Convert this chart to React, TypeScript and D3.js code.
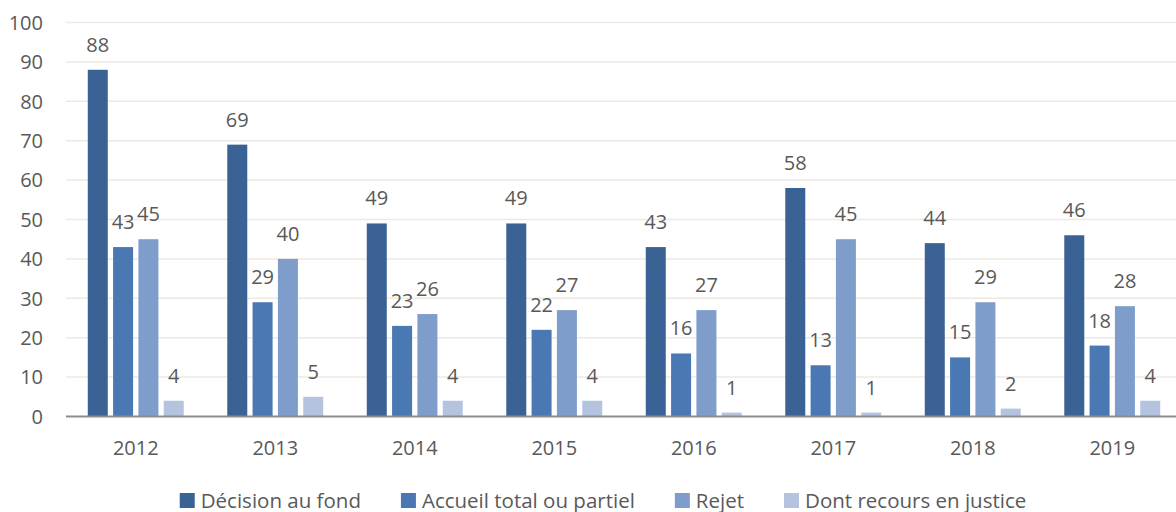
import React, { useEffect, useRef } from 'react';
import * as d3 from 'd3';

// Données du graphique
const years = ['2012', '2013', '2014', '2015', '2016', '2017', '2018', '2019'];
const seriesNames = ['Décision au fond', 'Accueil total ou partiel', 'Rejet', 'Dont recours en justice'];
const decisionAuFond = [88, 69, 49, 49, 43, 58, 44, 46];
const accueil = [43, 29, 23, 22, 16, 13, 15, 18];
const rejet = [45, 40, 26, 27, 27, 45, 29, 28];
const recours = [4, 5, 4, 4, 1, 1, 2, 4];
const yTicks = [0, 10, 20, 30, 40, 50, 60, 70, 80, 90, 100];
const colors = ['#3b6294', '#4a78b2', '#7f9dca', '#b4c4df'];

const FONT = "'Open Sans', sans-serif";
const TEXT_COLOR = '#595959';

const App: React.FC = () => {
    const chartRef = useRef<SVGSVGElement>(null);

    useEffect(() => {
        const width = 1176;
        const height = 512;
        const marginLeft = 66;
        const plotRight = 1182;
        const yBottom = 416.5;
        const yTop = 22.5;

        const values = [decisionAuFond, accueil, rejet, recours];

        const svg = d3.select(chartRef.current)
            .attr('width', width)
            .attr('height', height);
        svg.selectAll('*').remove();

        // Echelles
        const x0 = d3.scaleBand()
            .domain(years)
            .range([marginLeft, plotRight])
            .paddingInner(0.274)
            .paddingOuter(0.137);

        const x1 = d3.scaleBand()
            .domain(seriesNames)
            .range([0, x0.bandwidth()])
            .paddingInner(0.21)
            .paddingOuter(0.105);

        const y = d3.scaleLinear()
            .domain([0, 100])
            .range([yBottom, yTop]);

        // Grille horizontale
        svg.append('g')
            .selectAll('line')
            .data(yTicks.filter((t) => t > 0))
            .enter()
            .append('line')
            .attr('x1', marginLeft)
            .attr('x2', width)
            .attr('y1', (d) => y(d))
            .attr('y2', (d) => y(d))
            .attr('stroke', '#eeeae1')
            .attr('stroke-width', 1.5);

        // Libellés de l'axe Y
        svg.append('g')
            .selectAll('text')
            .data(yTicks)
            .enter()
            .append('text')
            .attr('x', 43)
            .attr('y', (d) => y(d))
            .attr('dy', '0.36em')
            .attr('text-anchor', 'end')
            .style('font-family', FONT)
            .style('font-size', '20px')
            .attr('fill', TEXT_COLOR)
            .text((d) => d);

        // Barres
        const groups = svg.append('g')
            .selectAll('g')
            .data(years)
            .enter()
            .append('g')
            .attr('transform', (d) => `translate(${x0(d)},0)`);

        groups.selectAll('rect')
            .data((_, i) => seriesNames.map((s, k) => ({ s, k, v: values[k][i] })))
            .enter()
            .append('rect')
            .attr('x', (d) => x1(d.s) || 0)
            .attr('y', (d) => y(d.v))
            .attr('width', x1.bandwidth())
            .attr('height', (d) => yBottom - y(d.v))
            .attr('fill', (d) => colors[d.k]);

        groups.selectAll('text')
            .data((_, i) => seriesNames.map((s, k) => ({ s, k, v: values[k][i] })))
            .enter()
            .append('text')
            .attr('x', (d) => (x1(d.s) || 0) + x1.bandwidth() / 2)
            .attr('y', (d) => y(d.v) - 18)
            .attr('text-anchor', 'middle')
            .style('font-family', FONT)
            .style('font-size', '20px')
            .attr('fill', TEXT_COLOR)
            .text((d) => d.v);

        // Axe X
        svg.append('line')
            .attr('x1', marginLeft)
            .attr('x2', width)
            .attr('y1', yBottom)
            .attr('y2', yBottom)
            .attr('stroke', '#8c8c8c')
            .attr('stroke-width', 2);

        svg.append('g')
            .selectAll('text')
            .data(years)
            .enter()
            .append('text')
            .attr('x', (d) => (x0(d) || 0) + x0.bandwidth() / 2)
            .attr('y', yBottom + 38.5)
            .attr('text-anchor', 'middle')
            .style('font-family', FONT)
            .style('font-size', '20px')
            .attr('fill', TEXT_COLOR)
            .text((d) => d);

        // Légende
        const legend = svg.append('g');
        const items = legend.selectAll('g')
            .data(seriesNames)
            .enter()
            .append('g');
        items.append('rect')
            .attr('width', 15)
            .attr('height', 15)
            .attr('y', 493)
            .attr('fill', (_, k) => colors[k]);
        items.append('text')
            .attr('x', 21)
            .attr('y', 507.5)
            .style('font-family', FONT)
            .style('font-size', '20.5px')
            .attr('fill', TEXT_COLOR)
            .text((d) => d);

        const gap = 40;
        let pos = 0;
        const offsets: number[] = [];
        items.each(function () {
            offsets.push(pos);
            const t = d3.select(this).select('text').node() as SVGTextElement;
            pos += 21 + t.getComputedTextLength() + gap;
        });
        const total = pos - gap;
        const start = 603 - total / 2;
        items.attr('transform', (_, k) => `translate(${start + offsets[k]},0)`);
    }, []);

    return <svg ref={chartRef} style={{ position: 'absolute', left: 0, top: 0, background: '#fff' }}></svg>;
};

export default App;
